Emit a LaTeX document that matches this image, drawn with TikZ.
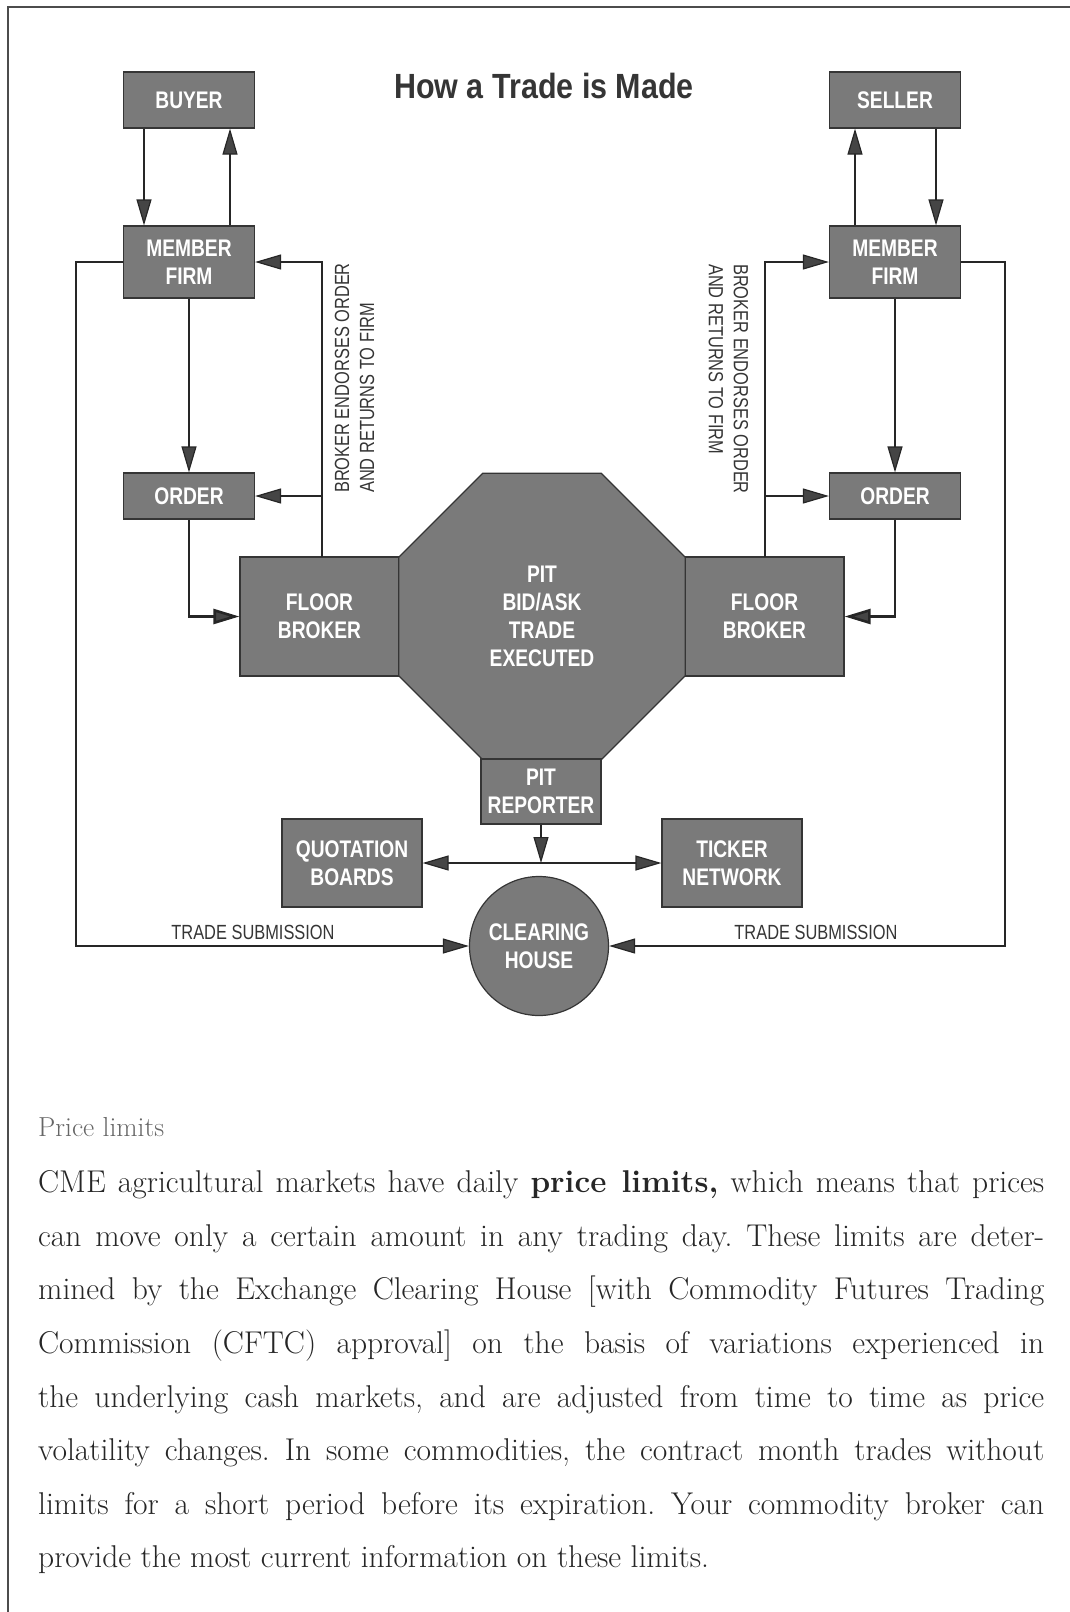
\documentclass[tikz,border=0pt]{standalone}
\usepackage{fontspec}
\usetikzlibrary{arrows.meta,shapes.geometric}
\newfontfamily\boxfont[FakeStretch=0.8]{Liberation Sans}
\newfontfamily\titlefont[FakeStretch=0.87]{Liberation Sans}
\newfontfamily\notefont[FakeStretch=0.8]{Liberation Sans}
\definecolor{boxgray}{HTML}{7A7A7A}
\definecolor{inkgray}{HTML}{353535}
\definecolor{tipgray}{HTML}{454545}

\tikzset{
  box/.style={draw=inkgray, line width=1.2pt, fill=boxgray, text=white, align=center,
    inner sep=0pt, font=\boxfont\bfseries\fontsize{24}{28}\selectfont},
  arr/.style={draw=black!85, line width=1.2pt, -{Triangle[length=26pt,width=15pt,fill=tipgray]}},
  heavy/.style={arr, line width=2.6pt},
  twoway/.style={arr, {Triangle[length=26pt,width=15pt,fill=tipgray]}-{Triangle[length=26pt,width=15pt,fill=tipgray]}},
  note/.style={font=\notefont\fontsize{20.5}{25}\selectfont, text=inkgray, inner sep=0pt, align=left},
}

\begin{document}
\begin{tikzpicture}[x=1pt, y=-1pt]
    \useasboundingbox (0,0) rectangle (1070,1612);
    % Page frame
    \draw[line width=1.6pt, black!70] (8,1612) -- (8,7) -- (1070,7);
    \node[font=\titlefont\bfseries\fontsize{35}{40}\selectfont, text=inkgray] (title) at (544,86) {How a Trade is Made};
    % Buyer side
    \node[box, minimum width=131pt, minimum height=56pt] (buyer) at (189,100) {BUYER};
    \node[box, minimum width=131pt, minimum height=72pt] (firmL) at (189,262) {MEMBER\\FIRM};
    \node[box, minimum width=131pt, minimum height=46pt] (orderL) at (189,496) {ORDER};
    \node[box, minimum width=159pt, minimum height=119pt] (brokerL) at (319.5,616.5) {FLOOR\\BROKER};
    % Seller side
    \node[box, minimum width=131pt, minimum height=56pt] (seller) at (895,100) {SELLER};
    \node[box, minimum width=131pt, minimum height=72pt] (firmR) at (895,262) {MEMBER\\FIRM};
    \node[box, minimum width=131pt, minimum height=46pt] (orderR) at (895,496) {ORDER};
    \node[box, minimum width=159pt, minimum height=119pt] (brokerR) at (764.5,616.5) {FLOOR\\BROKER};
    % Pit and what comes out of it
    \node[box, regular polygon, regular polygon sides=8, minimum size=310pt] (pit) at (542,616.5) {PIT\\BID/ASK\\TRADE\\EXECUTED};
    \node[box, minimum width=120pt, minimum height=65pt] (reporter) at (541,791.5) {PIT\\REPORTER};
    \node[box, minimum width=140pt, minimum height=88pt] (quotes) at (352,863) {QUOTATION\\BOARDS};
    \node[box, minimum width=140pt, minimum height=88pt] (ticker) at (732,863) {TICKER\\NETWORK};
    \node[box, circle, minimum size=139pt] (clearing) at (539,946) {CLEARING\\HOUSE};
    % Left-hand arrows
    \draw[arr] ([xshift=-45pt]buyer.south) -- ([xshift=-45pt]firmL.north);
    \draw[arr] ([xshift=41pt]firmL.north) -- ([xshift=41pt]buyer.south);
    \draw[arr] (firmL.south) -- (orderL.north);
    \draw[heavy] (orderL.south) |- (brokerL.west);
    \coordinate (retL) at (322,557);
    \draw[arr] (retL) |- (firmL.east);
    \draw[arr] (retL |- orderL.east) -- (orderL.east);
    \coordinate (subL) at (76,946);
    \draw[arr] (firmL.west) -| (subL) -- (clearing.west);
    \node[note, anchor=south] (subtextL) at (253,940) {TRADE SUBMISSION};
    \node[note, rotate=90, anchor=west] (endorseL) at (354.5,493) {BROKER ENDORSES ORDER\\AND RETURNS TO FIRM};
    % Right-hand arrows
    \draw[arr] ([xshift=-40pt]firmR.north) -- ([xshift=-40pt]seller.south);
    \draw[arr] ([xshift=41pt]seller.south) -- ([xshift=41pt]firmR.north);
    \draw[arr] (firmR.south) -- (orderR.north);
    \draw[heavy] (orderR.south) |- (brokerR.east);
    \coordinate (retR) at (765,557);
    \draw[arr] (retR) |- (firmR.west);
    \draw[arr] (retR |- orderR.west) -- (orderR.west);
    \coordinate (subR) at (1005,946);
    \draw[arr] (firmR.east) -| (subR) -- (clearing.east);
    \node[note, anchor=south] (subtextR) at (816,940) {TRADE SUBMISSION};
    \node[note, rotate=-90, anchor=west] (endorseR) at (728.5,264) {BROKER ENDORSES ORDER\\AND RETURNS TO FIRM};
    % Reporter to boards and ticker
    \draw[arr] (reporter.south) -- (reporter.south |- quotes.east);
    \draw[twoway] (quotes.east) -- (ticker.west);
    % Text below
    \node[anchor=base west, inner sep=0pt, text=black!60, font=\fontsize{27.5}{32}\selectfont] (heading) at (38,1136) {Price limits};
    \node[anchor=north west, inner sep=0pt, text width=1006pt, align=justify, text=black!85, font=\fontsize{31.5}{53.6}\selectfont] (body) at (38,1170.5)
      {\tolerance=10000\frenchspacing CME agricultural markets have daily \textbf{price limits,} which means that prices\linebreak
      can move only a certain amount in any trading day. These limits are deter-\linebreak
      mined by the Exchange Clearing House [with Commodity Futures Trading\linebreak
      Commission (CFTC) approval] on the basis of variations experienced in\linebreak
      the underlying cash markets, and are adjusted from time to time as price\linebreak
      volatility changes. In some commodities, the contract month trades without\linebreak
      limits for a short period before its expiration. Your commodity broker can\linebreak
      provide the most current information on these limits.};
\end{tikzpicture}
\end{document}
